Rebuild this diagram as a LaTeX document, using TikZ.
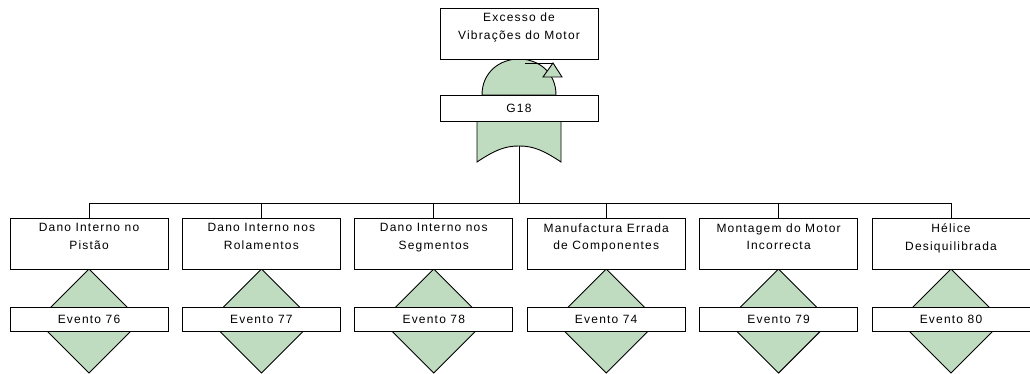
\documentclass[tikz,border=0pt]{standalone}
\usepackage{fontspec}
\setmainfont{Liberation Sans}[LetterSpace=10]
\begin{document}
\begin{tikzpicture}[x=1pt,y=-1pt,
  every node/.style={font=\fontsize{12}{17.5}\selectfont},
  box/.style={draw=black, fill=white, line width=0.9pt},
  gatefill/.style={draw=black, fill=gatecol, line width=0.9pt},
  wire/.style={draw=black, line width=0.9pt},
  lbl/.style={anchor=north, align=center, inner sep=0pt}
]
\definecolor{gatecol}{HTML}{C0DCC0}
\useasboundingbox (0,0) rectangle (1030,374);

% ---- top event and OR gate ----
\path[gatefill] (482,95) .. controls (482,72) and (500,59) .. (519,59)
                 .. controls (538,59) and (556,72) .. (556,95) -- cycle;
\path[gatefill] (477,121) -- (477,162) .. controls (495,150) and (505,146) .. (519,146)
                 .. controls (533,146) and (543,150) .. (561,162) -- (561,121) -- cycle;
% transfer symbol
\coordinate (trA) at (553,63);
\path[gatefill] (trA) -- (562,77) -- (543,77) -- cycle;
\draw[wire] (525,63) -- (trA);

\draw[box] (440,8) rectangle (598,59);
\node[lbl] (top) at (519,13) {Excesso de\\Vibrações do Motor};
\draw[box] (440,95) rectangle (598,121);
\node (g18) at (519,108) {G18};

\coordinate (gout) at (519,146);
\coordinate (bus) at (519,203);
\draw[wire] (gout) -- (bus);

% ---- basic events ----
\foreach \i/\t/\e in {0/{Dano Interno no\\Pistão}/76,
                      1/{Dano Interno nos\\Rolamentos}/77,
                      2/{Dano Interno nos\\Segmentos}/78,
                      3/{Manufactura Errada\\de Componentes}/74,
                      4/{Montagem do Motor\\Incorrecta}/79,
                      5/{Hélice\\Desiquilibrada}/80} {
  \pgfmathsetmacro{\cx}{89+172.4*\i}
  \path[gatefill] (\cx,269) -- (\cx+52,321) -- (\cx,373) -- (\cx-52,321) -- cycle;
  \draw[box] (\cx-79,218) rectangle (\cx+79,269);
  \node[lbl] (ev\i) at (\cx,223.5) {\t};
  \draw[box] (\cx-79,307) rectangle (\cx+79,331);
  \node (id\i) at (\cx,319) {Evento \e};
  \coordinate (in\i) at (\cx,203);
  \draw[wire] (in\i) -- (\cx,218);
}
\draw[wire] (in0) -- (in5);
\end{tikzpicture}
\end{document}
